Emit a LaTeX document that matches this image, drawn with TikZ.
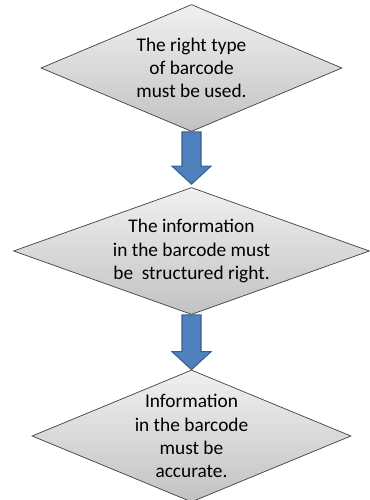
\documentclass[tikz,border=0pt]{standalone}
\usepackage{fontspec}
\setmainfont{Carlito}
\usetikzlibrary{shapes.geometric, calc}
\definecolor{ShapeTop}{HTML}{F0F0F0}
\definecolor{ShapeBottom}{HTML}{C2C2C2}
\definecolor{ShapeEdge}{HTML}{404040}
\definecolor{ArrowBlue}{HTML}{4F81BD}
\definecolor{ArrowEdge}{HTML}{3A5F8B}

\begin{document}
\begin{tikzpicture}[
    every node/.style={font=\fontsize{11}{13.2}\selectfont},
    rule/.style={diamond, draw=ShapeEdge, thin, top color=ShapeTop,
        bottom color=ShapeBottom, inner sep=0pt, align=center},
    blockarr/.style={fill=ArrowBlue, draw=ArrowEdge, line width=0.6pt, line join=miter},
]
\useasboundingbox (0,0) rectangle (7.38,10);

% === Rules ===
\node[rule, minimum width=6.02cm, minimum height=2.54cm, aspect=2.37] (type) at (3.83, 8.64)
    {The right type\\of barcode\\must be used.};
\node[rule, minimum width=7.12cm, minimum height=2.54cm, aspect=2.8] (struct) at (3.83, 4.98)
    {The information\\in the barcode must\\be\ \ structured right.};
\node[rule, minimum width=6.38cm, minimum height=2.64cm, aspect=2.42] (accur) at (3.83, 1.28)
    {Information\\in the barcode\\must be\\accurate.};

% === Block arrows ===
\draw[blockarr] ($(type.south)+(-0.19,0)$) -- ($(struct.north)+(-0.19,0.42)$) -- ++(-0.2,0)
    -- ($(struct.north)+(0,0.06)$) -- ++(0.39,0.36) -- ++(-0.2,0) -- ($(type.south)+(0.19,0)$) -- cycle;
\draw[blockarr] ($(struct.south)+(-0.19,0)$) -- ($(accur.north)+(-0.19,0.36)$) -- ++(-0.2,0)
    -- (accur.north) -- ++(0.39,0.36) -- ++(-0.2,0) -- ($(struct.south)+(0.19,0)$) -- cycle;

\end{tikzpicture}
\end{document}
